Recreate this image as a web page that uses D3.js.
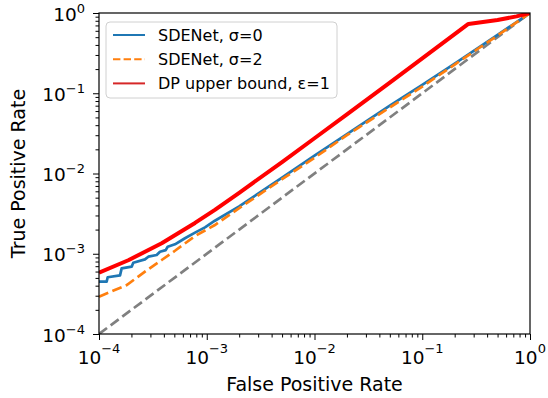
<!DOCTYPE html>
<html>
<head>
<meta charset="utf-8">
<script src="https://cdn.jsdelivr.net/npm/d3@7"></script>
<style>
  body { margin: 0; background: #fff; }
  svg { display: block; font-family: "DejaVu Sans", sans-serif; }
</style>
</head>
<body>
<div id="chart"></div>
<script>
// ROC curves on log-log axes
const sdenet0 = [
  [1e-4, 4.49e-4], [1.178e-4, 4.49e-4], [1.204e-4, 5.09e-4], [1.567e-4, 5.38e-4],
  [1.623e-4, 6.58e-4], [2.01e-4, 6.9e-4], [2.08e-4, 7.74e-4], [2.67e-4, 8.5e-4],
  [2.87e-4, 9.19e-4], [3.43e-4, 9.65e-4], [3.68e-4, 1.06e-3], [4.16e-4, 1.11e-3],
  [4.34e-4, 1.22e-3], [5.07e-4, 1.31e-3], [6.28e-4, 1.56e-3], [7.78e-4, 1.83e-3],
  [9.63e-4, 2.13e-3], [1.19e-3, 2.58e-3], [2e-3, 3.9e-3], [5e-3, 8.9e-3],
  [1e-2, 0.0167], [2e-2, 0.031], [5e-2, 0.07], [0.1, 0.127], [0.2, 0.234],
  [0.5, 0.535], [1, 1]
];
const sdenet2 = [
  [1e-4, 2.92e-4], [1.81e-4, 4.08e-4], [2.67e-4, 5.98e-4], [3.82e-4, 8.36e-4],
  [5.07e-4, 1.09e-3], [7.78e-4, 1.66e-3], [1.19e-3, 2.28e-3], [2e-3, 3.7e-3],
  [5e-3, 8.5e-3], [1e-2, 0.0157], [2e-2, 0.030], [5e-2, 0.0665], [0.1, 0.121],
  [0.2, 0.228], [0.5, 0.525], [1, 1]
];
const dpBound = [
  [1e-4, 5.8e-4], [1.87e-4, 8.3e-4], [3.82e-4, 1.35e-3], [7.78e-4, 2.42e-3],
  [1.19e-3, 3.52e-3], [2e-3, 5.75e-3], [5e-3, 0.0139], [1e-2, 0.0275],
  [2e-2, 0.0547], [5e-2, 0.136], [0.1, 0.272], [0.2, 0.544], [0.268, 0.731],
  [0.5, 0.816], [0.75, 0.908], [1, 1]
];
const chance = [[1e-4, 1e-4], [1, 1]];
const tickExps = [-4, -3, -2, -1, 0];
const legendLabels = ["SDENet, σ=0", "SDENet, σ=2", "DP upper bound, ε=1"];

const width = 548;
const height = 398;
const margin = { top: 13, right: 18, bottom: 64, left: 99 };
const innerWidth = width - margin.left - margin.right;
const innerHeight = height - margin.top - margin.bottom;

const svg = d3
  .select("#chart")
  .append("svg")
  .attr("width", width)
  .attr("height", height);

const xScale = d3.scaleLog().domain([1e-4, 1]).range([0, innerWidth]);
const yScale = d3.scaleLog().domain([1e-4, 1]).range([innerHeight, 0]);

const g = svg
  .append("g")
  .attr("transform", `translate(${margin.left}, ${margin.top})`);

g.append("clipPath")
  .attr("id", "clip")
  .append("rect")
  .attr("width", innerWidth)
  .attr("height", innerHeight);

// minor ticks at 2..9 of each decade
const minor = [];
tickExps.slice(0, -1).forEach((e) => {
  for (let k = 2; k <= 9; k++) minor.push(k * Math.pow(10, e));
});
const major = tickExps.map((e) => Math.pow(10, e));

const xAxis = d3.axisBottom(xScale).tickValues(major).tickSize(6).tickFormat("");
const xMinor = d3.axisBottom(xScale).tickValues(minor).tickSize(3.5).tickFormat("");
const yAxis = d3.axisLeft(yScale).tickValues(major).tickSize(6).tickFormat("");
const yMinor = d3.axisLeft(yScale).tickValues(minor).tickSize(3.5).tickFormat("");

[xAxis, xMinor].forEach((a) =>
  g.append("g").attr("transform", `translate(0, ${innerHeight})`).call(a)
);
[yAxis, yMinor].forEach((a) => g.append("g").call(a));
g.selectAll(".domain").remove();
g.selectAll(".tick line").attr("stroke", "#000").attr("stroke-width", 1);

// tick labels 10^n
function powLabel(sel, e, raise) {
  sel.append("tspan").text("10");
  sel
    .append("tspan")
    .attr("dy", -raise)
    .style("font-size", "13px")
    .text(e < 0 ? "\u2212" + -e : String(e));
}

tickExps.forEach((e) => {
  const v = Math.pow(10, e);
  g.append("text")
    .attr("x", xScale(v))
    .attr("y", innerHeight + 30)
    .attr("text-anchor", "middle")
    .style("font-size", "18.5px")
    .call(powLabel, e, 11);
  g.append("text")
    .attr("x", -14)
    .attr("y", yScale(v) + 7.5)
    .attr("text-anchor", "end")
    .style("font-size", "18.5px")
    .call(powLabel, e, 8);
});

// lines
const line = d3
  .line()
  .x((d) => xScale(d[0]))
  .y((d) => yScale(d[1]));

const plotG = g.append("g").attr("clip-path", "url(#clip)");

plotG.append("path")
  .datum(chance)
  .attr("d", line)
  .attr("fill", "none")
  .attr("stroke", "#808080")
  .attr("stroke-width", 2.7)
  .attr("stroke-dasharray", "10,4.5");

plotG.append("path")
  .datum(sdenet0)
  .attr("d", line)
  .attr("fill", "none")
  .attr("stroke", "#1f77b4")
  .attr("stroke-width", 2.7)
  .attr("stroke-linejoin", "round");

plotG.append("path")
  .datum(sdenet2)
  .attr("d", line)
  .attr("fill", "none")
  .attr("stroke", "#ff7f0e")
  .attr("stroke-width", 2.7)
  .attr("stroke-dasharray", "10,4.5");

plotG.append("path")
  .datum(dpBound)
  .attr("d", line)
  .attr("fill", "none")
  .attr("stroke", "#ff0000")
  .attr("stroke-width", 4)
  .attr("stroke-linejoin", "round");

// frame
g.append("rect")
  .attr("width", innerWidth)
  .attr("height", innerHeight)
  .attr("fill", "none")
  .attr("stroke", "#000")
  .attr("stroke-width", 1.2);

// axis titles
svg.append("text")
  .attr("x", margin.left + innerWidth / 2)
  .attr("y", 391)
  .attr("text-anchor", "middle")
  .style("font-size", "19px")
  .text("False Positive Rate");

svg.append("text")
  .attr("transform", `translate(25, ${margin.top + innerHeight / 2}) rotate(-90)`)
  .attr("text-anchor", "middle")
  .style("font-size", "19px")
  .text("True Positive Rate");

// legend
const legendColors = ["#1f77b4", "#ff7f0e", "#d62728"];
const legendDash = [null, "7.4,3.2", null];
const legend = svg.append("g").attr("transform", "translate(106, 22)");

legend.append("rect")
  .attr("width", 231)
  .attr("height", 76)
  .attr("rx", 4)
  .attr("fill", "#fff")
  .attr("fill-opacity", 0.8)
  .attr("stroke", "#d0d0d0")
  .attr("stroke-width", 1);

legend
  .selectAll(".legend-item")
  .data(legendLabels)
  .join("g")
  .attr("class", "legend-item")
  .attr("transform", (d, i) => `translate(0, ${13 + i * 24.2})`)
  .each(function (d, i) {
    const item = d3.select(this);
    item.append("line")
      .attr("x1", 7)
      .attr("x2", 39)
      .attr("stroke", legendColors[i])
      .attr("stroke-width", 2)
      .attr("stroke-dasharray", legendDash[i]);
    item.append("text")
      .attr("x", 52)
      .attr("y", 5.8)
      .style("font-size", "16px")
      .text(d);
  });
</script>
</body>
</html>
